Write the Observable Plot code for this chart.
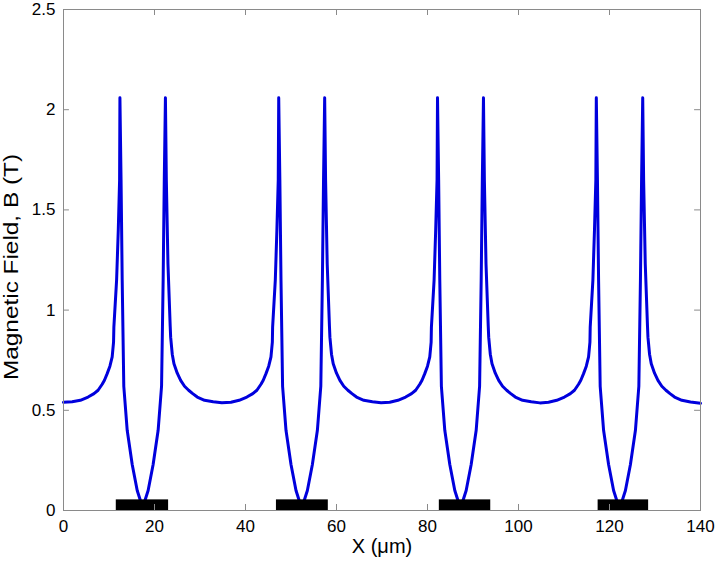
<!DOCTYPE html>
<html>
<head>
<meta charset="utf-8">
<script src="https://cdn.jsdelivr.net/npm/d3@7"></script>
<script src="https://cdn.jsdelivr.net/npm/@observablehq/plot@0.6"></script>
<style>
  html, body { margin: 0; padding: 0; background: #fff; }
  #chart { width: 717px; height: 567px; }
</style>
</head>
<body>
<div id="chart"></div>
<script>
// Field profile B(x): [x (µm), B (T)]
const fieldProfile = [
  // left edge -> first peak
  [0, 0.540], [1.9, 0.543], [3.7, 0.550], [5.4, 0.566], [6.7, 0.583], [7.6, 0.600], [8.5, 0.630], [9.0, 0.650],
  [9.6, 0.683], [10.2, 0.720], [10.7, 0.767], [11.0, 0.840], [11.07, 0.915], [11.67, 1.15], [12.04, 1.40], [12.33, 1.65], [12.4, 2.06],
  // first strip
  [12.65, 1.65], [12.9, 1.15], [13.25, 0.62], [14.0, 0.40], [15.1, 0.23], [16.2, 0.10], [16.9, 0.05], [17.4, 0.02],
  [17.9, 0.05], [18.6, 0.10], [19.7, 0.23], [20.8, 0.40], [21.55, 0.62], [21.9, 1.15], [22.15, 1.65], [22.4, 2.06],
  // valley 1
  [22.6, 1.65], [22.96, 1.23], [23.45, 0.92], [23.55, 0.865], [23.9, 0.780], [24.28, 0.732], [25.0, 0.685], [25.75, 0.649],
  [26.6, 0.620], [27.5, 0.600], [28.4, 0.583], [29.4, 0.566], [31.0, 0.550], [32.9, 0.543], [34.8, 0.538], [36.8, 0.540],
  [38.6, 0.550], [40.3, 0.566], [41.6, 0.583], [42.5, 0.600], [43.4, 0.630], [43.9, 0.650], [44.5, 0.683], [45.1, 0.720],
  [45.6, 0.767], [45.9, 0.840], [45.96, 0.915], [46.55, 1.15], [46.9, 1.40], [47.2, 1.65], [47.3, 2.06],
  // second strip
  [47.55, 1.65], [47.8, 1.15], [48.15, 0.62], [48.9, 0.40], [50.0, 0.23], [51.1, 0.10], [51.8, 0.05], [52.35, 0.02],
  [52.9, 0.05], [53.6, 0.10], [54.7, 0.23], [55.8, 0.40], [56.55, 0.62], [56.9, 1.15], [57.15, 1.65], [57.4, 2.06],
  // valley 2
  [57.6, 1.65], [57.96, 1.23], [58.45, 0.92], [58.55, 0.865], [58.9, 0.780], [59.28, 0.732], [60.0, 0.685], [60.75, 0.649],
  [61.6, 0.620], [62.5, 0.600], [63.4, 0.583], [64.4, 0.566], [66.0, 0.550], [67.9, 0.543], [69.8, 0.538], [71.7, 0.540],
  [73.5, 0.550], [75.2, 0.566], [76.5, 0.583], [77.4, 0.600], [78.3, 0.630], [78.8, 0.650], [79.4, 0.683], [80.0, 0.720],
  [80.5, 0.767], [80.8, 0.840], [80.86, 0.915], [81.45, 1.15], [81.8, 1.40], [82.1, 1.65], [82.2, 2.06],
  // third strip
  [82.45, 1.65], [82.7, 1.15], [83.05, 0.62], [83.8, 0.40], [84.9, 0.23], [86.0, 0.10], [86.7, 0.05], [87.25, 0.02],
  [87.8, 0.05], [88.5, 0.10], [89.6, 0.23], [90.7, 0.40], [91.45, 0.62], [91.8, 1.15], [92.05, 1.65], [92.3, 2.06],
  // valley 3
  [92.5, 1.65], [92.86, 1.23], [93.35, 0.92], [93.45, 0.865], [93.8, 0.780], [94.18, 0.732], [94.9, 0.685], [95.65, 0.649],
  [96.5, 0.620], [97.4, 0.600], [98.3, 0.583], [99.3, 0.566], [100.9, 0.550], [102.8, 0.543], [104.7, 0.537], [106.6, 0.540],
  [108.4, 0.550], [110.1, 0.566], [111.4, 0.583], [112.3, 0.600], [113.2, 0.630], [113.7, 0.650], [114.3, 0.683], [114.9, 0.720],
  [115.4, 0.767], [115.7, 0.840], [115.76, 0.915], [116.35, 1.15], [116.7, 1.40], [117.0, 1.65], [117.1, 2.06],
  // fourth strip
  [117.35, 1.65], [117.6, 1.15], [117.95, 0.62], [118.7, 0.40], [119.8, 0.23], [120.9, 0.10], [121.6, 0.05], [122.2, 0.02],
  [122.8, 0.05], [123.5, 0.10], [124.6, 0.23], [125.7, 0.40], [126.45, 0.62], [126.8, 1.15], [127.05, 1.65], [127.3, 2.06],
  // right tail
  [127.5, 1.65], [127.86, 1.23], [128.35, 0.92], [128.45, 0.865], [128.8, 0.780], [129.18, 0.732], [129.9, 0.685], [130.65, 0.649],
  [131.5, 0.620], [132.4, 0.600], [133.3, 0.583], [134.3, 0.566], [135.9, 0.550], [137.8, 0.541], [140, 0.535]
];

// Magnet strips (black bars)
const barStart = [11.6, 46.8, 82.6, 117.5];
const barEnd   = [23.1, 58.2, 93.9, 128.6];
const barHeight = 0.053;

const xTicks = [0, 20, 40, 60, 80, 100, 120, 140];
const xTickLabels = ["0", "20", "40", "60", "80", "100", "120", "140"];
const yTicks = [0, 0.5, 1, 1.5, 2, 2.5];
const yTickLabels = ["0", "0.5", "1", "1.5", "2", "2.5"];

const xLabel = "X (\u03bcm)";
const yLabel = "Magnetic Field, B (T)";

const bars = barStart.map((s, i) => ({x1: s, x2: barEnd[i], top: barHeight}));

const gray = "#8a8a8a";
const font = "'Liberation Sans', Arial, sans-serif";

const chart = Plot.plot({
  width: 717,
  height: 567,
  marginLeft: 63,
  marginRight: 17,
  marginTop: 9,
  marginBottom: 57,
  style: {fontFamily: font, fontSize: "17px", background: "#fff", color: "#000", overflow: "visible"},
  x: {domain: [0, 140]},
  y: {domain: [0, 2.5]},
  marks: [
    Plot.line(fieldProfile, {x: d => d[0], y: d => d[1], stroke: "#0000dd", strokeWidth: 3, strokeLinejoin: "round"}),
    Plot.rect(bars, {x1: "x1", x2: "x2", y1: 0, y2: "top", fill: "#000"}),
    Plot.frame({stroke: gray, strokeWidth: 1}),
    Plot.ruleX(xTicks, {y1: 0, y2: 0.03, stroke: gray}),
    Plot.ruleX(xTicks, {y1: 2.47, y2: 2.5, stroke: gray}),
    Plot.ruleY(yTicks, {x1: 0, x2: 1.3, stroke: gray}),
    Plot.ruleY(yTicks, {x1: 138.7, x2: 140, stroke: gray}),
    Plot.axisX(xTicks, {
      tickSize: 0, tickPadding: 9, fontSize: 17,
      tickFormat: d => xTickLabels[xTicks.indexOf(d)],
      label: null
    }),
    Plot.axisY(yTicks, {
      tickSize: 0, tickPadding: 8, fontSize: 17,
      tickFormat: d => yTickLabels[yTicks.indexOf(d)],
      label: null
    }),
    Plot.text([xLabel], {frameAnchor: "bottom", textAnchor: "middle", dy: 42, fontSize: 20, fill: "#000"}),
    Plot.text([yLabel], {frameAnchor: "left", textAnchor: "middle", lineAnchor: "middle", dx: -52, dy: 7, rotate: -90, fontSize: 20, fill: "#000"})
  ]
});

// widen the y label like the reference
const yl = Array.from(chart.querySelectorAll("text")).find(t => t.textContent === yLabel);
if (yl) { yl.setAttribute("textLength", "226"); yl.setAttribute("lengthAdjust", "spacingAndGlyphs"); }

document.getElementById("chart").appendChild(chart);
</script>
</body>
</html>
